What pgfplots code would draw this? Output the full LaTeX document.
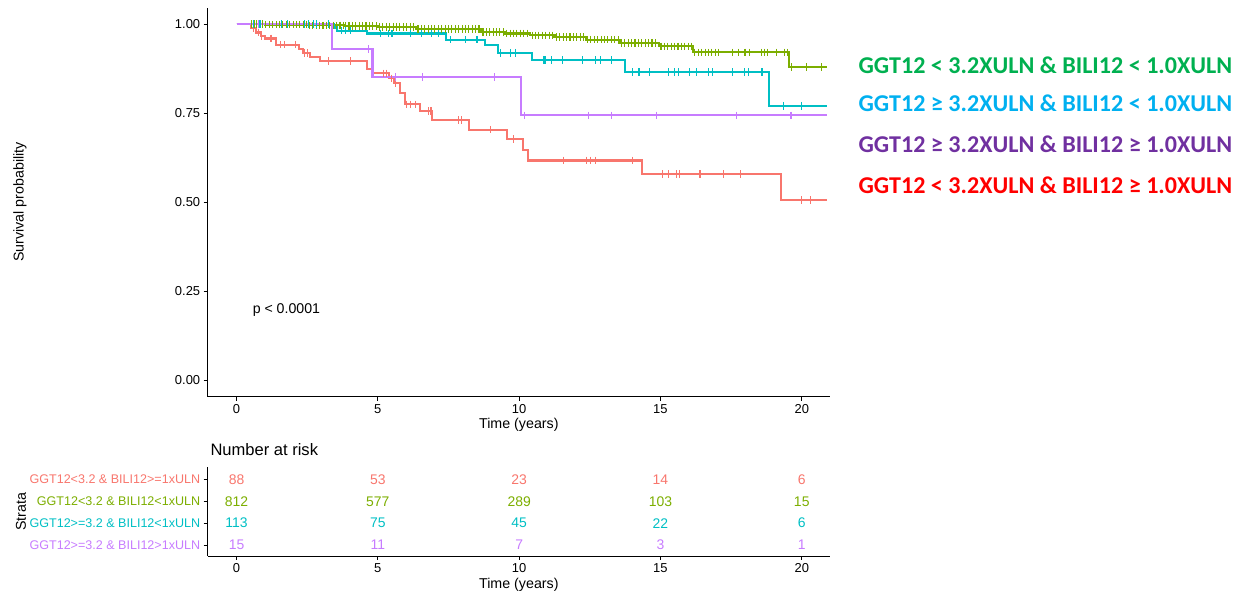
\documentclass[border=0pt]{standalone}
\usepackage{fontspec}
\setmainfont{Liberation Sans}
\newfontfamily\carlito{Carlito}
\usepackage{pgfplots}
\pgfplotsset{compat=1.18}
\definecolor{kmred}{HTML}{F8766D}
\definecolor{kmgreen}{HTML}{7CAE00}
\definecolor{kmcyan}{HTML}{00BFC4}
\definecolor{kmpurple}{HTML}{C77CFF}
\definecolor{lgreen}{HTML}{00B050}
\definecolor{lblue}{HTML}{00B0F0}
\definecolor{lpurple}{HTML}{7030A0}
\definecolor{lred}{HTML}{FF0000}
\pgfplotsset{
  kmbase/.style={
    scale only axis, width=622.3bp,
    xmin=-1.02, xmax=21.0,
    axis lines=left, axis line style={-, line width=0.8bp, black},
    tick align=outside, major tick length=4bp,
    tick style={line width=0.8bp, black},
    xtick={0,5,10,15,20},
    /pgf/number format/assume math mode=true,
    ticklabel style={font=\fontsize{13}{15}\selectfont, text=black},
    xlabel style={font=\fontsize{14.3}{16}\selectfont},
  },
  kmstep/.style={const plot, no marks, line width=2.1bp},
  kmcens/.style={only marks, mark=|, mark size=3.8bp, mark options={line width=1.1bp}},
}
\begin{document}
\begin{tikzpicture}[x=1bp,y=1bp]
\path[use as bounding box] (0,0) rectangle (1246,594);

\begin{axis}[kmbase, at={(207.7bp,197.3bp)}, anchor=south west,
  height=388.4bp, ymin=-0.047, ymax=1.045,
  ytick={0,0.25,0.5,0.75,1},
  yticklabel style={/pgf/number format/.cd, fixed, fixed zerofill, precision=2},
  xlabel={Time (years)}, xlabel style={yshift=2bp}]
% red: GGT12<3.2 & BILI12>=1xULN
\addplot[kmstep, kmred] coordinates {(0,1.000) (0.50,0.989) (0.70,0.977) (0.85,0.966) (1.00,0.960) (1.40,0.943) (2.20,0.931) (2.35,0.920) (2.60,0.908) (2.95,0.897) (4.62,0.874) (4.80,0.862) (5.38,0.848) (5.56,0.834) (5.78,0.806) (5.96,0.775) (6.49,0.756) (6.91,0.731) (8.22,0.704) (9.57,0.677) (10.13,0.646) (10.32,0.617) (14.36,0.579) (19.27,0.506) (20.9,0.506)};
\addplot[kmcens, kmred] coordinates {(0.59,0.989) (0.77,0.977) (0.89,0.966) (1.22,0.960) (1.56,0.943) (1.69,0.943) (2.10,0.943) (2.42,0.920) (2.52,0.920) (3.25,0.897) (4.02,0.897) (5.20,0.862) (5.32,0.862) (5.47,0.848) (5.61,0.834) (6.03,0.775) (6.15,0.775) (6.32,0.775) (6.80,0.756) (6.88,0.756) (7.86,0.731) (7.95,0.731) (8.98,0.704) (9.80,0.677) (11.58,0.617) (12.39,0.617) (12.53,0.617) (12.71,0.617) (14.00,0.617) (15.07,0.579) (15.27,0.579) (15.57,0.579) (15.66,0.579) (16.40,0.579) (17.23,0.579) (17.83,0.579) (20.00,0.506) (20.30,0.506)};
% green: GGT12<3.2 & BILI12<1xULN
\addplot[kmstep, kmgreen] coordinates {(0,1.000) (1.0,0.999) (2.5,0.997) (3.8,0.995) (5.0,0.993) (6.35,0.986) (8.65,0.978) (9.5,0.974) (10.4,0.969) (11.25,0.964) (12.35,0.957) (13.55,0.948) (14.95,0.938) (16.15,0.921) (19.55,0.880) (20.9,0.880)};
\addplot[kmcens, kmgreen] coordinates {
(0.52,1.000) (0.62,1.000) (0.72,1.000) (0.82,1.000) (0.92,1.000)
(1.04,0.999) (1.16,0.999) (1.28,0.999) (1.40,0.999) (1.52,0.999) (1.64,0.999) (1.76,0.999) (1.88,0.999) (2.00,0.999) (2.12,0.999) (2.24,0.999) (2.36,0.999) (2.48,0.999)
(2.58,0.997) (2.70,0.997) (2.82,0.997) (2.94,0.997) (3.06,0.997) (3.18,0.997) (3.30,0.997) (3.42,0.997) (3.54,0.997) (3.66,0.997) (3.78,0.997)
(3.86,0.995) (3.98,0.995) (4.10,0.995) (4.22,0.995) (4.34,0.995) (4.46,0.995) (4.58,0.995) (4.70,0.995) (4.82,0.995) (4.94,0.995)
(5.06,0.993) (5.18,0.993) (5.30,0.993) (5.42,0.993) (5.54,0.993) (5.66,0.993) (5.78,0.993) (5.90,0.993) (6.02,0.993) (6.14,0.993) (6.26,0.993)
(6.42,0.986) (6.54,0.986) (6.66,0.986) (6.78,0.986) (6.90,0.986) (7.02,0.986) (7.14,0.986) (7.26,0.986) (7.38,0.986) (7.50,0.986) (7.62,0.986) (7.74,0.986) (7.86,0.986) (7.98,0.986) (8.10,0.986) (8.22,0.986) (8.34,0.986) (8.46,0.986) (8.58,0.986)
(8.72,0.978) (8.84,0.978) (8.96,0.978) (9.08,0.978) (9.20,0.978) (9.32,0.978) (9.44,0.978)
(9.56,0.974) (9.68,0.974) (9.80,0.974) (9.92,0.974) (10.04,0.974) (10.16,0.974) (10.28,0.974)
(10.46,0.969) (10.58,0.969) (10.70,0.969) (10.82,0.969) (10.94,0.969) (11.06,0.969) (11.18,0.969)
(11.32,0.964) (11.44,0.964) (11.56,0.964) (11.68,0.964) (11.80,0.964) (11.92,0.964) (12.04,0.964) (12.16,0.964) (12.28,0.964)
(12.42,0.957) (12.54,0.957) (12.66,0.957) (12.78,0.957) (12.90,0.957) (13.02,0.957) (13.14,0.957) (13.26,0.957) (13.38,0.957) (13.50,0.957)
(13.62,0.948) (13.74,0.948) (13.86,0.948) (13.98,0.948) (14.10,0.948) (14.22,0.948) (14.34,0.948) (14.46,0.948) (14.58,0.948) (14.70,0.948) (14.82,0.948)
(15.02,0.938) (15.14,0.938) (15.26,0.938) (15.38,0.938) (15.50,0.938) (15.62,0.938) (15.74,0.938) (15.86,0.938) (15.98,0.938) (16.10,0.938)
(16.22,0.921) (16.34,0.921) (16.46,0.921) (16.58,0.921) (16.70,0.921) (16.82,0.921) (16.94,0.921) (17.06,0.921) (17.55,0.921) (17.75,0.921) (17.99,0.921) (18.16,0.921) (18.58,0.921) (18.67,0.921) (18.78,0.921) (19.11,0.921) (19.40,0.921) (19.49,0.921)
(19.64,0.880) (20.17,0.880) (20.70,0.880)};
% cyan: GGT12>=3.2 & BILI12<1xULN
\addplot[kmstep, kmcyan] coordinates {(0,1.000) (3.43,0.991) (3.55,0.982) (4.63,0.974) (7.42,0.957) (8.80,0.941) (9.25,0.920) (10.45,0.899) (13.75,0.866) (18.85,0.771) (20.9,0.771)};
\addplot[kmcens, kmcyan] coordinates {(0.59,1.000) (0.83,1.000) (1.58,1.000) (1.81,1.000) (2.42,1.000) (2.54,1.000) (2.72,1.000) (2.84,1.000) (3.25,1.000) (3.70,0.982) (3.84,0.982) (4.02,0.982) (5.08,0.974) (5.38,0.974) (5.50,0.974) (6.15,0.974) (6.56,0.974) (6.91,0.974) (7.15,0.974) (7.57,0.957) (8.10,0.957) (8.51,0.957) (9.34,0.920) (9.69,0.920) (9.87,0.920) (10.88,0.899) (10.93,0.899) (11.15,0.899) (11.55,0.899) (12.23,0.899) (12.71,0.899) (12.88,0.899) (13.27,0.899) (14.00,0.866) (14.24,0.866) (14.60,0.866) (15.28,0.866) (15.49,0.866) (15.64,0.866) (16.02,0.866) (16.29,0.866) (16.70,0.866) (16.84,0.866) (17.55,0.866) (17.97,0.866) (18.12,0.866) (18.56,0.866) (18.62,0.866) (19.36,0.771) (19.98,0.771)};
% purple: GGT12>=3.2 & BILI12>1xULN
\addplot[kmstep, kmpurple] coordinates {(0,1.000) (3.39,0.930) (4.81,0.851) (10.05,0.744) (20.9,0.744)};
\addplot[kmcens, kmpurple] coordinates {(0.79,1.000) (4.67,0.930) (5.61,0.851) (6.58,0.851) (9.12,0.851) (10.20,0.744) (12.45,0.744) (13.27,0.744) (14.87,0.744) (17.70,0.744) (19.62,0.744)};
\node[anchor=west, font=\fontsize{14.2}{16}\selectfont] at (axis cs:0.45,0.197) {p < 0.0001};
\end{axis}

\node[rotate=90, font=\fontsize{14.3}{16}\selectfont] at (20,392) {Survival probability};

% legend text on the right
\begin{scope}[every node/.style={anchor=base west, font=\carlito\bfseries\fontsize{24.2}{28}\selectfont}]
\node[text=lgreen] at (855,520.7) {GGT12 < 3.2XULN \& BILI12 < 1.0XULN};
\node[text=lblue] at (855,482.3) {GGT12 ≥ 3.2XULN \& BILI12 < 1.0XULN};
\node[text=lpurple] at (855,441.3) {GGT12 ≥ 3.2XULN \& BILI12 ≥ 1.0XULN};
\node[text=lred] at (855,400.7) {GGT12 < 3.2XULN \& BILI12 ≥ 1.0XULN};
\end{scope}

% risk table
\begin{axis}[kmbase, at={(207.7bp,38bp)}, anchor=south west,
  height=89.3bp, ymin=0.5, ymax=4.58,
  ytick={1,2,3,4},
  yticklabel style={font=\fontsize{12.6}{14}\selectfont},
  yticklabels={{\textcolor{kmpurple}{GGT12>=3.2 \& BILI12>1xULN}},{\textcolor{kmcyan}{GGT12>=3.2 \& BILI12<1xULN}},{\textcolor{kmgreen}{GGT12<3.2 \& BILI12<1xULN}},{\textcolor{kmred}{GGT12<3.2 \& BILI12>=1xULN}}},
  xlabel={Time (years)}, xlabel style={yshift=1bp}]
\begin{scope}[every node/.style={font=\fontsize{14}{16}\selectfont, anchor=center}]
\node[text=kmred] at (axis cs:0,4) {88};
\node[text=kmred] at (axis cs:5,4) {53};
\node[text=kmred] at (axis cs:10,4) {23};
\node[text=kmred] at (axis cs:15,4) {14};
\node[text=kmred] at (axis cs:20,4) {6};
\node[text=kmgreen] at (axis cs:0,3) {812};
\node[text=kmgreen] at (axis cs:5,3) {577};
\node[text=kmgreen] at (axis cs:10,3) {289};
\node[text=kmgreen] at (axis cs:15,3) {103};
\node[text=kmgreen] at (axis cs:20,3) {15};
\node[text=kmcyan] at (axis cs:0,2) {113};
\node[text=kmcyan] at (axis cs:5,2) {75};
\node[text=kmcyan] at (axis cs:10,2) {45};
\node[text=kmcyan] at (axis cs:15,2) {22};
\node[text=kmcyan] at (axis cs:20,2) {6};
\node[text=kmpurple] at (axis cs:0,1) {15};
\node[text=kmpurple] at (axis cs:5,1) {11};
\node[text=kmpurple] at (axis cs:10,1) {7};
\node[text=kmpurple] at (axis cs:15,1) {3};
\node[text=kmpurple] at (axis cs:20,1) {1};
\end{scope}
\end{axis}

\node[anchor=base west, font=\fontsize{16.6}{18}\selectfont] at (207,138) {Number at risk};
\node[rotate=90, font=\fontsize{14.3}{16}\selectfont] at (21,82) {Strata};
\end{tikzpicture}
\end{document}
